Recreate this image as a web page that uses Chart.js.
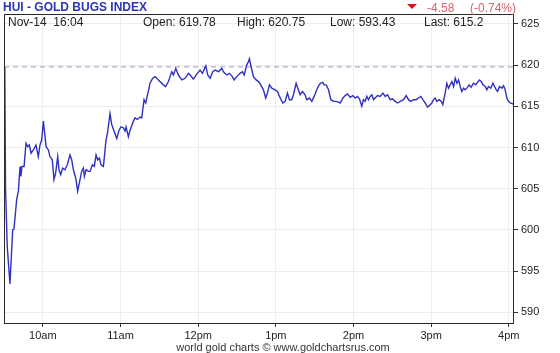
<!DOCTYPE html>
<html>
<head>
<meta charset="utf-8">
<script src="https://cdn.jsdelivr.net/npm/chart.js@4"></script>
<style>
html,body{margin:0;padding:0;background:#fff;}
canvas{display:block;}
</style>
</head>
<body>
<canvas id="c" width="560" height="353"></canvas>
<script>
// minutes after 9:30
const minutes = [0.6,1.2,2.5,4.6,6.7,7.7,9.8,11.1,12.4,13.1,13.9,15.5,17.0,18.3,19.6,20.9,22.7,24.7,26.5,27.8,29.1,30.4,32.5,34.3,35.5,37.3,38.6,39.9,41.5,42.5,43.8,45.3,47.1,48.9,51.0,52.3,53.6,55.4,56.9,58.7,60.0,61.3,62.1,63.4,65.2,66.5,68.3,69.8,71.1,72.4,73.7,75.0,76.8,78.8,79.9,81.9,83.2,85.0,87.1,88.9,90.4,92.2,93.5,94.3,96.1,97.4,100.0,101.2,103.0,105.1,106.4,108.2,109.5,110.3,111.5,112.8,114.9,116.7,119.3,123.1,124.9,127.0,
128.3,129.6,130.9,132.7,134.7,137.3,139.9,142.5,144.3,146.3,148.9,151.5,153.3,155.9,157.4,159.2,161.3,163.1,165.6,168.2,170.0,172.1,174.2,176.0,177.8,179.8,182.4,184.2,185.5,187.5,188.8,189.6,190.9,192.7,194.8,196.6,198.4,200.4,202.2,203.5,205.1,206.9,209.4,211.3,212.8,214.1,215.4,217.2,219.0,220.5,222.3,223.6,225.7,227.0,228.8,230.6,232.6,233.9,236.0,237.8,239.6,241.6,243.4,244.7,246.3,247.3,248.9,250.7,252.5,254.5,256.3,258.4,
259.7,261.8,263.6,265.4,267.4,269.5,271.3,273.1,274.6,276.4,277.7,279.0,280.3,281.6,282.9,284.2,285.5,286.7,288.6,290.6,292.7,294.5,296.3,298.3,300.1,302.2,304.0,306.1,308.6,310.7,312.5,314.3,316.4,318.4,320.2,322.0,323.6,325.4,327.2,328.7,330.5,331.8,333.1,334.4,336.2,337.8,339.0,340.8,342.1,343.4,344.7,346.0,347.3,348.6,349.9,351.2,352.4,353.7,355.0,356.3,357.6,359.4,360.9,362.7,364.5,366.1,367.4,368.7,370.0,371.8,373.0,374.3,376.1,377.7,379.0,380.3,381.3,382.8,384.6,385.9,387.2,388.5,389.8,391.1,393.1,394.0];
const prices = [619.78,605.0,598.0,593.43,600.0,600.1,603.7,604.7,607.7,606.5,607.7,607.7,610.5,610.1,610.3,609.3,609.7,610.3,608.9,610.3,610.9,613.2,610.1,609.7,608.9,608.5,606.1,606.9,608.9,607.3,606.7,607.5,607.3,607.9,609.1,608.5,607.3,606.3,604.7,606.1,607.1,607.5,606.5,607.3,607.1,607.1,607.9,607.7,609.1,608.5,608.7,607.9,607.7,610.9,611.7,614.1,612.8,612.0,611.1,612.1,612.5,612.4,612.0,612.5,611.3,612.1,613.2,613.6,613.4,613.7,613.6,615.8,615.4,616.0,616.8,617.8,618.4,618.6,618.2,617.6,617.4,618.0,
618.6,619.2,618.8,619.6,618.8,618.2,618.4,619.0,618.7,618.3,618.9,619.4,619.0,619.9,618.8,618.4,619.2,619.4,619.2,619.6,619.1,618.8,619.0,618.7,618.2,618.6,619.0,619.2,618.8,620.0,620.4,620.75,619.8,618.6,618.2,618.0,617.6,617.0,616.0,616.6,617.6,617.2,617.0,616.8,616.2,615.8,615.4,615.6,616.6,615.8,615.8,616.4,617.8,617.2,616.4,616.8,616.4,615.8,616.0,615.6,616.2,617.0,617.6,617.8,617.9,617.6,617.6,617.0,615.8,615.6,615.6,615.5,
615.4,616.0,616.3,616.5,616.1,616.3,616.0,616.2,615.9,615.0,615.8,615.6,616.2,615.8,616.2,616.4,615.8,616.0,616.3,616.2,616.6,616.2,616.4,615.8,615.9,615.6,615.4,615.6,615.8,616.3,615.8,615.6,615.8,615.8,616.0,616.2,615.8,615.4,614.9,615.1,615.4,615.8,616.0,615.6,615.8,615.6,615.2,616.6,617.8,617.2,617.6,618.0,617.4,618.4,617.8,618.2,617.4,616.8,617.2,617.0,617.2,617.6,617.3,617.8,617.6,618.0,618.2,618.0,617.6,617.4,617.0,617.4,617.2,617.8,617.4,617.0,616.8,617.4,617.2,617.5,617.0,616.0,615.6,615.4,615.3,615.2];
const openPrice = 619.78;
const xTickMinutes = [30,90,150,210,270,330,390];
const xTickLabels = ['10am','11am','12pm','1pm','2pm','3pm','4pm'];
const yTicks = [590,595,600,605,610,615,620,625];
const titleText = 'HUI - GOLD BUGS INDEX';
const infoDate = 'Nov-14  16:04';
const infoItems = ['Open: 619.78','High: 620.75','Low: 593.43','Last: 615.2'];
const changeText = '-4.58';
const changePct = '(-0.74%)';
const footerText = 'world gold charts \u00a9 www.goldchartsrus.com';

const FONT = '"Liberation Sans", Arial, sans-serif';

const overlay = {
  id: 'overlay',
  afterDraw(chart) {
    const ctx = chart.ctx;
    const a = chart.chartArea;
    ctx.save();
    // border
    ctx.strokeStyle = '#2a2a2a';
    ctx.lineWidth = 1;
    ctx.strokeRect(Math.round(a.left) + 0.5, Math.round(a.top) + 0.5, Math.round(a.right - a.left) - 1, Math.round(a.bottom - a.top));
    // title
    ctx.fillStyle = '#2b35b8';
    ctx.font = 'bold 12px ' + FONT;
    ctx.textBaseline = 'alphabetic';
    ctx.textAlign = 'left';
    ctx.fillText(titleText, 3, 11);
    // info row
    ctx.fillStyle = '#222';
    ctx.font = '12px ' + FONT;
    ctx.fillText(infoDate, 8, 26);
    const xs = [143, 237, 330, 424];
    infoItems.forEach((t, i) => ctx.fillText(t, xs[i], 26));
    // change
    ctx.fillStyle = '#d9636b';
    ctx.fillText(changeText, 427, 12);
    ctx.fillText(changePct, 470, 12);
    ctx.fillStyle = '#e0101a';
    ctx.beginPath();
    ctx.moveTo(407, 4);
    ctx.lineTo(417, 4);
    ctx.lineTo(412, 9);
    ctx.closePath();
    ctx.fill();
    // footer
    ctx.fillStyle = '#333';
    ctx.font = '11px ' + FONT;
    ctx.textAlign = 'center';
    ctx.fillText(footerText, 283, 351);
    ctx.restore();
  }
};

new Chart(document.getElementById('c'), {
  type: 'line',
  data: {
    datasets: [
      {
        data: minutes.map((m, i) => ({ x: m, y: prices[i] })),
        borderColor: '#3030c0',
        borderWidth: 1.4,
        pointRadius: 0,
        tension: 0,
        fill: false
      },
      {
        data: [{ x: 0, y: openPrice }, { x: 394, y: openPrice }],
        borderColor: '#9c9cc4',
        borderWidth: 1,
        borderDash: [5, 4],
        pointRadius: 0,
        fill: false
      }
    ]
  },
  options: {
    responsive: false,
    animation: false,
    events: [],
    layout: { padding: { left: 4, top: 14, right: 0, bottom: 0 } },
    plugins: { legend: { display: false }, tooltip: { enabled: false }, title: { display: false } },
    scales: {
      x: {
        type: 'linear',
        min: 0,
        max: 394,
        afterBuildTicks: s => { s.ticks = xTickMinutes.map(v => ({ value: v })); },
        afterFit: s => { s.height = 30; },
        grid: { color: '#ececec', tickColor: '#333', tickLength: 4, drawTicks: true },
        border: { display: false },
        ticks: {
          autoSkip: false, maxRotation: 0, padding: 2,
          color: '#222', font: { family: FONT, size: 11 },
          callback: v => xTickLabels[xTickMinutes.indexOf(v)]
        }
      },
      y: {
        position: 'right',
        min: 588.7,
        max: 626.2,
        afterBuildTicks: s => { s.ticks = yTicks.map(v => ({ value: v })); },
        afterFit: s => { s.width = 46; },
        grid: { color: '#ececec', tickColor: '#333', tickLength: 4, drawTicks: true },
        border: { display: false },
        ticks: {
          padding: 3, color: '#222', font: { family: FONT, size: 11 },
          callback: v => String(v)
        }
      }
    }
  },
  plugins: [overlay]
});
</script>
</body>
</html>
